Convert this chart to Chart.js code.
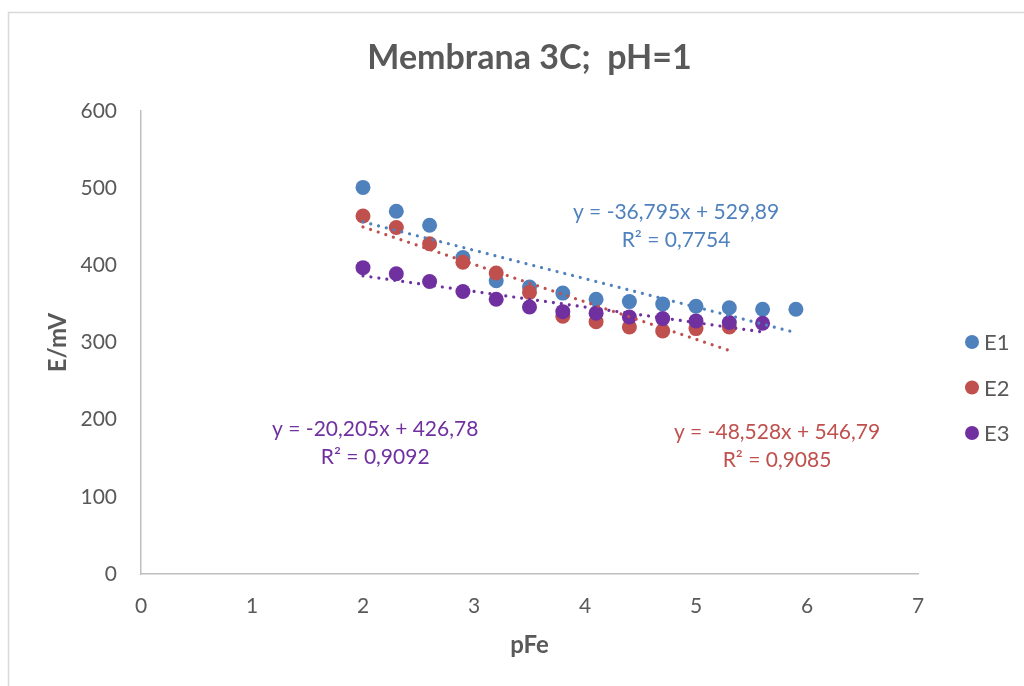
<!DOCTYPE html>
<html>
<head>
<meta charset="utf-8">
<script src="https://cdn.jsdelivr.net/npm/chart.js@4.4.1/dist/chart.umd.min.js"></script>
<style>
  html, body { margin: 0; padding: 0; background: #ffffff; }
  #wrap { width: 1024px; height: 686px; position: relative; }
</style>
</head>
<body>
<div id="wrap"><canvas id="c" width="1024" height="686"></canvas></div>
<script>
// ---- data ----
const pFe = [2.0, 2.3, 2.6, 2.9, 3.2, 3.5, 3.8, 4.1, 4.4, 4.7, 5.0, 5.3, 5.6, 5.9];
const E1 = [501, 470, 452, 410, 380, 372, 364, 356, 353, 350, 347, 345, 343, 343];
const E2 = [464, 449, 428, 404, 390, 365, 334, 327, 320, 315, 318, 320];
const E3 = [397, 389, 379, 366, 356, 346, 340, 338, 333, 331, 328, 326, 325];
const seriesNames = ['E1', 'E2', 'E3'];
const trendSlopes = [-36.795, -48.528, -20.205];
const trendIntercepts = [529.89, 546.79, 426.78];
const trendR2 = ['0,7754', '0,9085', '0,9092'];
const xTicks = [0, 1, 2, 3, 4, 5, 6, 7];
const yTicks = [0, 100, 200, 300, 400, 500, 600];

// ---- styles ----
const colors = ['#4F81BD', '#C0504D', '#7030A0'];
const FONT = 'Lato, "Open Sans", sans-serif';
const GRAY = '#595959';
// label anchors (data units) for the trendline equations
const labelAnchors = [ {x: 4.82, y: 469}, {x: 5.73, y: 184}, {x: 2.11, y: 187} ];

const seriesValues = [E1, E2, E3];
function pts(vals) { return vals.map((v, i) => ({x: pFe[i], y: v})); }
function fmt(n) { return String(n).replace('.', ','); }

const datasets = [];
// trendlines (drawn on top)
seriesValues.forEach((vals, k) => {
  const xs = vals.map((v, i) => pFe[i]);
  const x0 = Math.min(...xs), x1 = Math.max(...xs);
  datasets.push({
    type: 'line',
    label: seriesNames[k] + ' trend',
    data: [x0, x1].map(x => ({x, y: trendSlopes[k] * x + trendIntercepts[k]})),
    borderColor: colors[k],
    borderWidth: 3.2,
    borderDash: [0.01, 8],
    borderCapStyle: 'round',
    pointRadius: 0,
    fill: false,
    order: 0
  });
});
// scatter series
seriesValues.forEach((vals, k) => {
  datasets.push({
    type: 'scatter',
    label: seriesNames[k],
    data: pts(vals),
    backgroundColor: colors[k],
    borderColor: colors[k],
    pointRadius: 7.5,
    pointHoverRadius: 7.5,
    borderWidth: 0,
    order: 3 - k
  });
});

const decor = {
  id: 'decor',
  beforeDraw(chart) {
    const ctx = chart.ctx;
    ctx.save();
    ctx.strokeStyle = '#D9D9D9';
    ctx.lineWidth = 1.5;
    ctx.beginPath();
    ctx.moveTo(8.5, 686);
    ctx.lineTo(8.5, 12.5);
    ctx.lineTo(1024, 12.5);
    ctx.stroke();
    ctx.restore();
  },
  afterDraw(chart) {
    const ctx = chart.ctx;
    const xs = chart.scales.x, ys = chart.scales.y;
    ctx.save();
    // trendline equations
    ctx.font = '21px ' + FONT;
    ctx.textAlign = 'center';
    ctx.textBaseline = 'middle';
    labelAnchors.forEach((a, k) => {
      const px = xs.getPixelForValue(a.x), py = ys.getPixelForValue(a.y);
      ctx.fillStyle = colors[k];
      const b = trendIntercepts[k] >= 0 ? ' + ' + fmt(trendIntercepts[k]) : ' - ' + fmt(-trendIntercepts[k]);
      ctx.fillText('y = ' + fmt(trendSlopes[k]) + 'x' + b, px, py);
      ctx.fillText('R\u00B2 = ' + trendR2[k], px, py + 28);
    });
    // legend
    ctx.textAlign = 'left';
    ctx.font = '22px ' + FONT;
    seriesNames.forEach((n, k) => {
      const y = 342 + k * 45.5;
      ctx.fillStyle = colors[k];
      ctx.beginPath();
      ctx.arc(972, y, 7, 0, Math.PI * 2);
      ctx.fill();
      ctx.fillStyle = GRAY;
      ctx.fillText(n, 984, y + 1);
    });
    ctx.restore();
  }
};

new Chart(document.getElementById('c'), {
  data: { datasets },
  options: {
    responsive: false,
    animation: false,
    devicePixelRatio: 1,
    layout: { padding: { left: 0, right: 106, top: 0, bottom: 0 } },
    plugins: {
      legend: { display: false },
      tooltip: { enabled: false },
      title: {
        display: true,
        fullSize: false,
        text: 'Membrana 3C;  pH=1',
        color: GRAY,
        font: { family: FONT, size: 34, weight: 'bold', lineHeight: 1.2 },
        padding: { top: 37.6, bottom: 32.6 }
      }
    },
    scales: {
      x: {
        type: 'linear',
        min: 0, max: 7,
        afterFit(s) { s.height = 112; },
        afterBuildTicks(s) { s.ticks = xTicks.map(v => ({value: v})); },
        grid: { display: false, drawTicks: false },
        border: { display: true, color: '#BFBFBF', width: 1.5 },
        ticks: { color: GRAY, font: { family: FONT, size: 21 }, padding: 20 },
        title: { display: true, text: 'pFe', color: GRAY, font: { family: FONT, size: 24, weight: 'bold', lineHeight: 1.2 }, padding: { bottom: 26.6 } }
      },
      y: {
        type: 'linear',
        min: 0, max: 600,
        afterFit(s) { s.width = 141; },
        afterBuildTicks(s) { s.ticks = yTicks.map(v => ({value: v})); },
        grid: { display: false, drawTicks: false },
        border: { display: true, color: '#BFBFBF', width: 1.5 },
        ticks: { color: GRAY, font: { family: FONT, size: 21 }, padding: 24 },
        title: { display: true, text: 'E/mV', color: GRAY, font: { family: FONT, size: 24, weight: 'bold', lineHeight: 1.2 }, padding: { top: 43.6 } }
      }
    }
  },
  plugins: [decor]
});
</script>
</body>
</html>
